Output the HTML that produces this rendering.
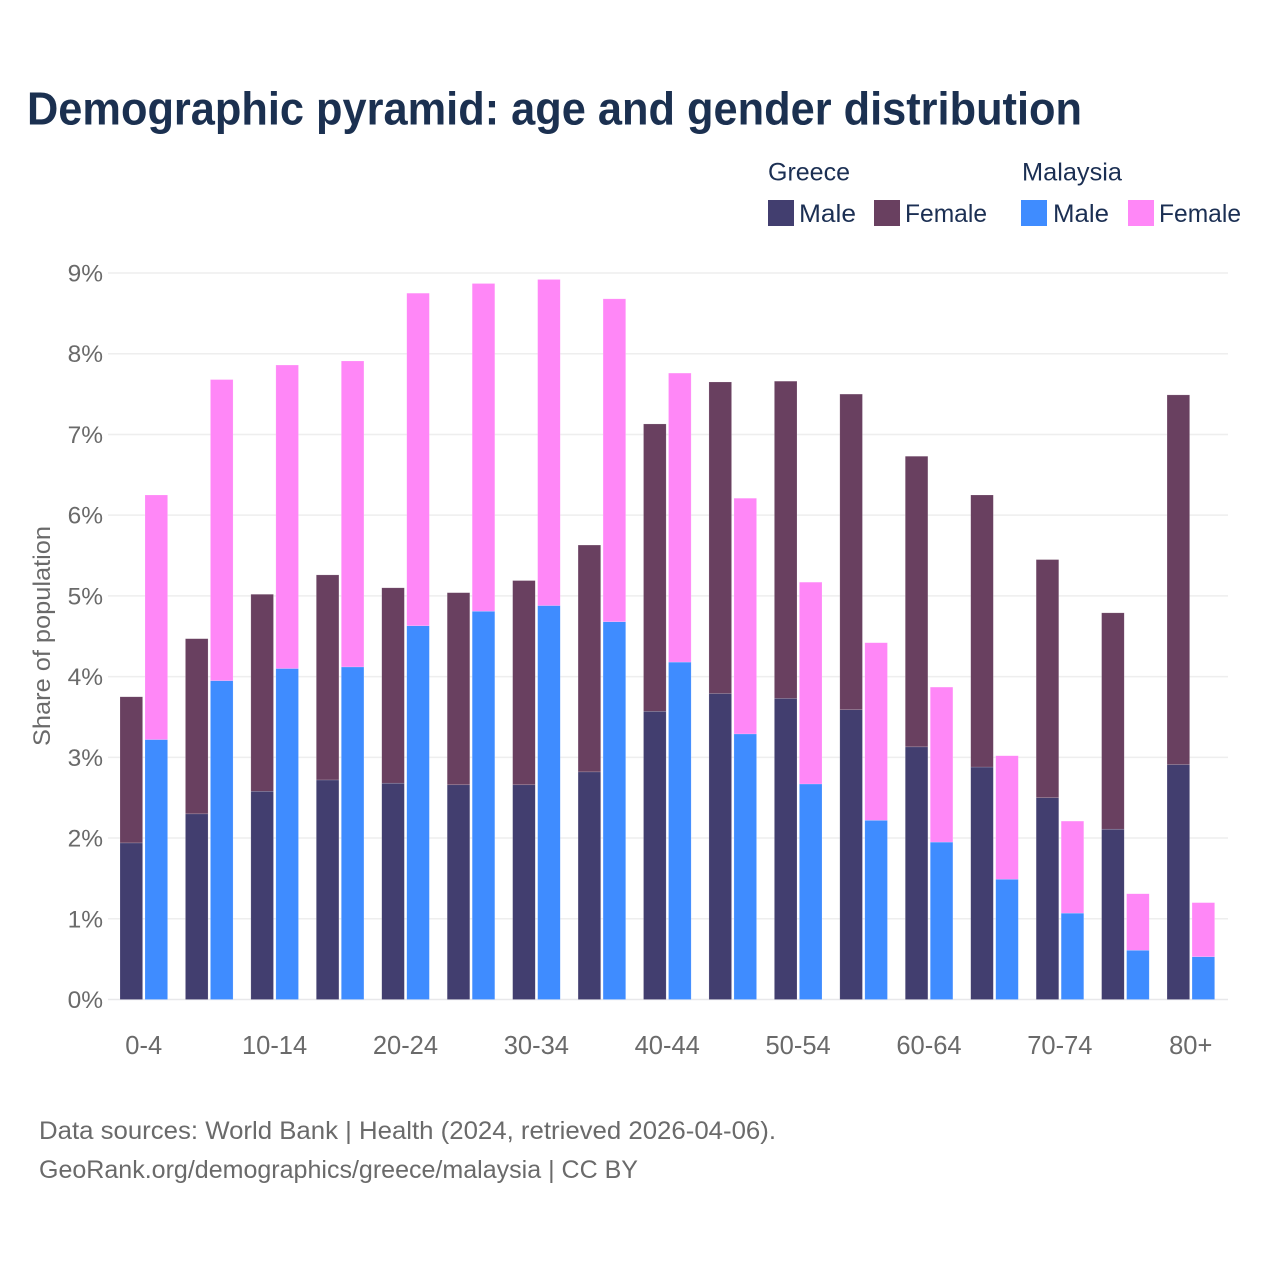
<!DOCTYPE html>
<html lang="en">
<head>
<meta charset="utf-8">
<title>Demographic pyramid: age and gender distribution</title>
<style>
html,body{margin:0;padding:0;background:#fff;width:1280px;height:1280px;overflow:hidden}
svg{display:block}
text{font-family:"Liberation Sans",sans-serif}
.title{font-size:46px;font-weight:700;fill:#1b3050}
.legend{font-size:25px;fill:#1b2f53}
.tick{font-size:24.5px;fill:#6a6a6a}
.xtick{font-size:25.5px;fill:#6a6a6a}
.foot{font-size:25px;fill:#6a6a6a}
</style>
</head>
<body>
<svg id="chart" xmlns="http://www.w3.org/2000/svg" width="1280" height="1280" viewBox="0 0 1280 1280">
  <rect x="0" y="0" width="1280" height="1280" fill="#fff"/>
  <text class="title" x="27" y="124.5" textLength="1055" lengthAdjust="spacingAndGlyphs">Demographic pyramid: age and gender distribution</text>

  <g>
    <text class="legend" x="768" y="180.5" textLength="82" lengthAdjust="spacingAndGlyphs">Greece</text>
    <text class="legend" x="1022" y="180.5" textLength="100" lengthAdjust="spacingAndGlyphs">Malaysia</text>
    <rect x="768" y="200" width="26" height="26" fill="#423e6f"/>
    <text class="legend" x="799" y="222" textLength="57" lengthAdjust="spacingAndGlyphs">Male</text>
    <rect x="874" y="200" width="26" height="26" fill="#694060"/>
    <text class="legend" x="905" y="222" textLength="82" lengthAdjust="spacingAndGlyphs">Female</text>
    <rect x="1021" y="200" width="26" height="26" fill="#3f8cff"/>
    <text class="legend" x="1053" y="222" textLength="56" lengthAdjust="spacingAndGlyphs">Male</text>
    <rect x="1128" y="200" width="26" height="26" fill="#ff87f7"/>
    <text class="legend" x="1159" y="222" textLength="82" lengthAdjust="spacingAndGlyphs">Female</text>
  </g>

  <g id="grid"></g>
  <g id="bars"></g>
  <g id="yticks"></g>
  <g id="xticks"></g>

  <text class="tick" x="0" y="0" text-anchor="middle" transform="translate(50,636) rotate(-90)" textLength="220" lengthAdjust="spacingAndGlyphs">Share of population</text>

  <text class="foot" x="39" y="1139" textLength="737" lengthAdjust="spacingAndGlyphs">Data sources: World Bank | Health (2024, retrieved 2026-04-06).</text>
  <text class="foot" x="39" y="1178" textLength="599" lengthAdjust="spacingAndGlyphs">GeoRank.org/demographics/greece/malaysia | CC BY</text>
</svg>
<script>
const categories = ["0-4","5-9","10-14","15-19","20-24","25-29","30-34","35-39","40-44","45-49","50-54","55-59","60-64","65-69","70-74","75-79","80+"];
const greeceMale = [1.94,2.30,2.58,2.72,2.68,2.66,2.66,2.82,3.57,3.79,3.73,3.59,3.13,2.88,2.50,2.11,2.91];
const greeceFemale = [1.81,2.17,2.44,2.54,2.42,2.38,2.53,2.81,3.56,3.86,3.93,3.91,3.60,3.37,2.95,2.68,4.58];
const malaysiaMale = [3.22,3.95,4.10,4.12,4.63,4.81,4.88,4.68,4.18,3.29,2.67,2.22,1.95,1.49,1.07,0.61,0.53];
const malaysiaFemale = [3.03,3.73,3.76,3.79,4.12,4.06,4.04,4.00,3.58,2.92,2.50,2.20,1.92,1.53,1.14,0.70,0.67];
const yTicks = [0,1,2,3,4,5,6,7,8,9];
const xTickLabels = ["0-4","10-14","20-24","30-34","40-44","50-54","60-64","70-74","80+"];

const NS = "http://www.w3.org/2000/svg";
const yScale = v => 999.5 - v * 80.72;
const groupX = i => 120 + i * 65.44;
const barW = 22.6;
const barGap = 25;

const gridG = document.getElementById("grid");
const yG = document.getElementById("yticks");
const xG = document.getElementById("xticks");
const barsG = document.getElementById("bars");

yTicks.forEach(t => {
  const line = document.createElementNS(NS, "line");
  
  
  line.setAttribute("x1", 108);
  line.setAttribute("x2", 1228);
  line.setAttribute("y1", yScale(t));
  line.setAttribute("y2", yScale(t));
  line.setAttribute("stroke", t === 0 ? "#e8e8ea" : "#eeeeee");
  line.setAttribute("stroke-width", 1.5);
  gridG.appendChild(line);

  const label = document.createElementNS(NS, "text");
  
  
  label.setAttribute("class", "tick");
  label.setAttribute("x", 103);
  label.setAttribute("y", yScale(t) + 8.5);
  label.setAttribute("text-anchor", "end");
  label.textContent = t + "%";
  yG.appendChild(label);
});

function addBar(x, base, value, color, name) {
  const r = document.createElementNS(NS, "rect");
  
  
  r.setAttribute("x", x);
  r.setAttribute("y", yScale(base + value));
  r.setAttribute("width", barW);
  r.setAttribute("height", yScale(base) - yScale(base + value));
  r.setAttribute("fill", color);
  r.setAttribute("stroke", "#fff");
  r.setAttribute("stroke-opacity", "0.3");
  r.setAttribute("stroke-width", "0.5");
  barsG.appendChild(r);
}

categories.forEach((c, i) => {
  const x0 = groupX(i);
  addBar(x0, 0, greeceMale[i], "#423e6f", "bar-greece-male");
  addBar(x0, greeceMale[i], greeceFemale[i], "#694060", "bar-greece-female");
  addBar(x0 + barGap, 0, malaysiaMale[i], "#3f8cff", "bar-malaysia-male");
  addBar(x0 + barGap, malaysiaMale[i], malaysiaFemale[i], "#ff87f7", "bar-malaysia-female");

  if (xTickLabels.includes(c)) {
    const label = document.createElementNS(NS, "text");
    
    
    label.setAttribute("class", "xtick");
    label.setAttribute("x", x0 + 23.7);
    label.setAttribute("y", 1054);
    label.setAttribute("text-anchor", "middle");
    label.textContent = c;
    xG.appendChild(label);
  }
});
</script>
</body>
</html>
